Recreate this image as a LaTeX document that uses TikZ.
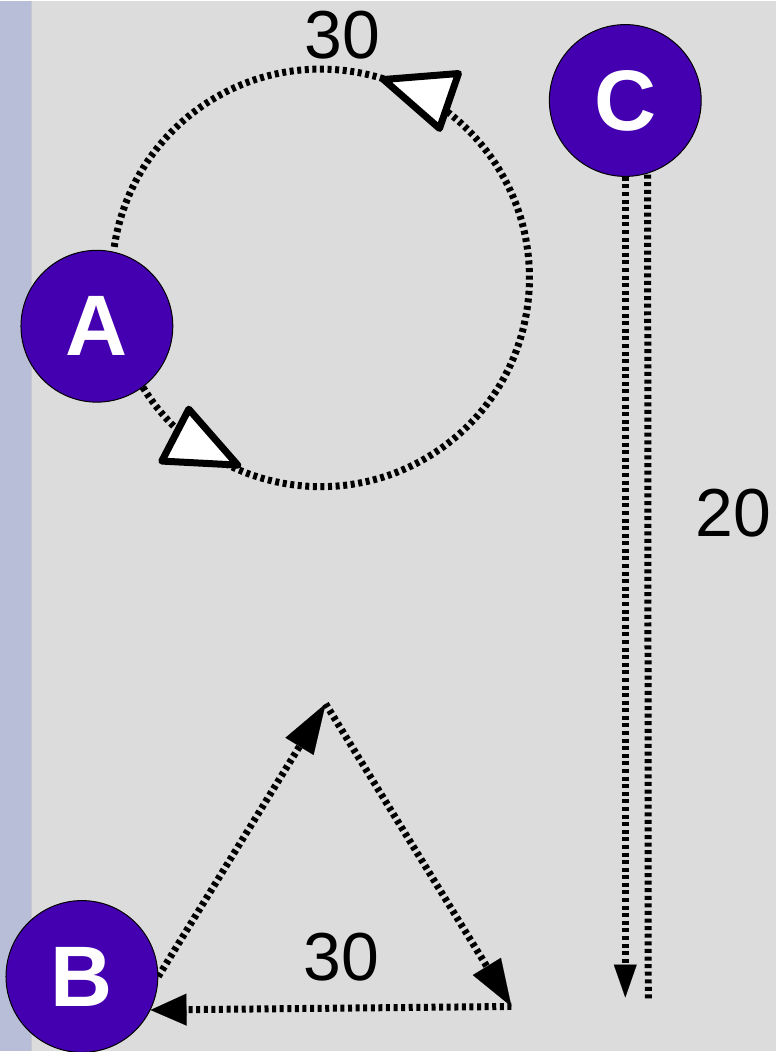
\documentclass[tikz,border=0pt]{standalone}
\usepackage{fontspec}
\setmainfont{Liberation Sans}
\usetikzlibrary{arrows.meta}
\definecolor{bgc}{HTML}{DCDCDC}
\definecolor{stripc}{HTML}{B8BDD8}
\definecolor{sepc}{HTML}{C8C8D0}
\definecolor{nodec}{HTML}{4400B0}
\pgfdeclarelayer{bglayer}
\pgfdeclarelayer{edgelayer}
\pgfsetlayers{bglayer,edgelayer,main}
\tikzset{
  vertex/.style={circle, fill=nodec, draw=black, line width=1pt, minimum size=152pt, inner sep=0pt, text=white, font=\fontsize{86}{90}\selectfont\bfseries},
  edge/.style={line width=7pt, dash pattern=on 4pt off 3.6pt, draw=black},
  lbl/.style={font=\fontsize{68}{72}\selectfont, text=black, inner sep=0pt},
  openhead/.style={draw=black, fill=white, line width=7pt, line join=round, solid},
}
\begin{document}
\begin{tikzpicture}[x=1pt,y=-1pt]
\begin{pgfonlayer}{bglayer}
  \fill[bgc] (0,0) rectangle (777,1052);
  \fill[stripc] (0,0) rectangle (31,1052);
  \draw[sepc, line width=1.2pt] (31.6,0) -- (31.6,1052);
\end{pgfonlayer}
\useasboundingbox (0,0) rectangle (777,1052);

\node[vertex] (A) at (97,326) {A};
\node[vertex] (B) at (82,977) {B};
\node[vertex] (C) at (626,100) {C};

\coordinate (apex) at (326,704);
\coordinate (corner) at (512,1007);
\coordinate (c1) at (626,998);
\coordinate (c2) at (649,999);

\begin{pgfonlayer}{edgelayer}
  % loop on A
  \draw[edge] (A.-53) arc[start angle=148.4, end angle=-172.3, radius=209];
  \draw[openhead] (384,79) -- (459,73) -- (440,128) -- cycle;
  \draw[openhead] (238,465) -- (189,409) -- (162,461) -- cycle;
  % C edges
  \draw[edge, -{Triangle[length=33pt,width=23pt,line width=0.1pt]}] (C.south) -- (c1);
  \draw[edge] (c2) -- (C.-73);
  % B edges
  \draw[edge, -{Triangle[length=50pt,width=33pt,line width=0.1pt]}] (B.east) -- (apex);
  \draw[edge, -{Triangle[length=47pt,width=33pt,line width=0.1pt]}] (apex) -- (corner);
  \draw[edge, -{Triangle[length=36pt,width=32pt,line width=0.1pt]}] (corner) -- (B.-26);
\end{pgfonlayer}

\node[lbl] (l1) at (343,35) {30};
\node[lbl] (l2) at (342,958) {30};
\node[lbl] (l3) at (734,513) {20};
\end{tikzpicture}
\end{document}
